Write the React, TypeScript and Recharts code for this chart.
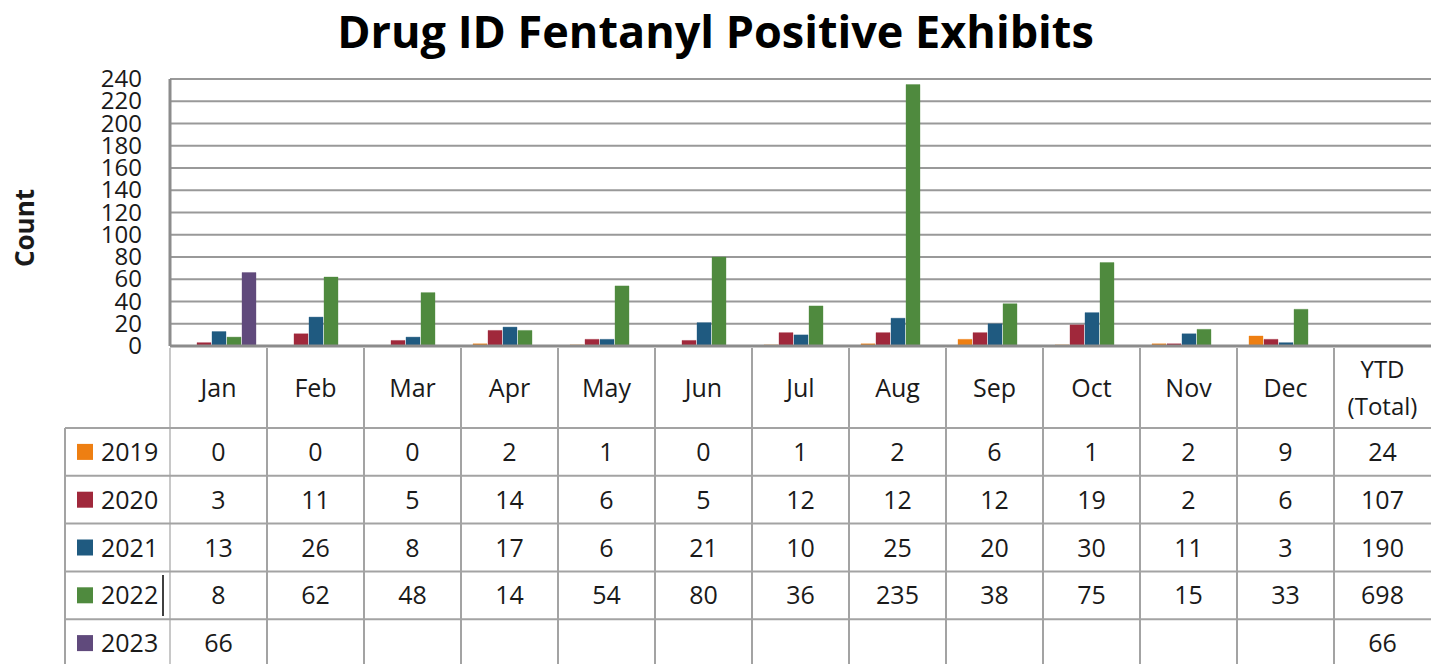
import { BarChart, Bar, XAxis, YAxis, CartesianGrid } from "recharts";

const months = ["Jan", "Feb", "Mar", "Apr", "May", "Jun", "Jul", "Aug", "Sep", "Oct", "Nov", "Dec"];
const ytdLabel = ["YTD", "(Total)"];
const years = ["2019", "2020", "2021", "2022", "2023"];
const colors = ["#EE7F12", "#A0283B", "#1F5A80", "#4F8A3E", "#604A7C"];

const y2019 = [0, 0, 0, 2, 1, 0, 1, 2, 6, 1, 2, 9];
const y2020 = [3, 11, 5, 14, 6, 5, 12, 12, 12, 19, 2, 6];
const y2021 = [13, 26, 8, 17, 6, 21, 10, 25, 20, 30, 11, 3];
const y2022 = [8, 62, 48, 14, 54, 80, 36, 235, 38, 75, 15, 33];
const y2023 = [66, null, null, null, null, null, null, null, null, null, null, null];
const ytdTotals = [24, 107, 190, 698, 66];

const yTicks = [0, 20, 40, 60, 80, 100, 120, 140, 160, 180, 200, 220, 240];

const series = [y2019, y2020, y2021, y2022, y2023];

const data: any[] = months.map((m, i) => {
  const row: any = { month: m, cells: series.map((s) => s[i]) };
  years.forEach((yr, k) => (row["y" + yr] = series[k][i]));
  return row;
});
data.push({ month: "YTD (Total)", cells: ytdTotals });

// layout
const W = 1431;
const H = 664;
const TOP = 79;
const AXIS_H = 318;
const PLOT_LEFT = 170;
const CELL = (W - PLOT_LEFT) / data.length;
const HEADER_BOTTOM = 428;
const ROW_H = 47.8;
const LEGEND_LEFT = 65;
const GRID = "#a3a3a3";
const FONT = "'Open Sans', sans-serif";

const TableColumn = (props: any) => {
  const { x, payload } = props;
  const i = payload.index;
  const row = data[i];
  const left = x - CELL / 2;
  const right = x + CELL / 2;
  const isYtd = i === data.length - 1;
  return (
    <g>
      <line x1={left} x2={left} y1={348} y2={H} stroke={i === 0 ? "#c8c8c8" : GRID} strokeWidth={2} />
      {isYtd ? (
        <text x={x} y={378} textAnchor="middle" fontFamily={FONT} fontSize={24} fill="#1a1a1a">
          <tspan x={x} dy={0}>{ytdLabel[0]}</tspan>
          <tspan x={x} dy={37}>{ytdLabel[1]}</tspan>
        </text>
      ) : (
        <text x={x} y={388} dy={9} textAnchor="middle" fontFamily={FONT} fontSize={25} fill="#1a1a1a">
          {row.month}
        </text>
      )}
      {years.map((yr, k) => {
        const top = HEADER_BOTTOM + k * ROW_H;
        const v = row.cells[k];
        return (
          <g key={yr}>
            <line x1={left} x2={right} y1={top} y2={top} stroke={GRID} strokeWidth={2} />
            {v !== null && v !== undefined && (
              <text x={x} y={top + ROW_H / 2} dy={9} textAnchor="middle" fontFamily={FONT} fontSize={25} fill="#1a1a1a">
                {v}
              </text>
            )}
          </g>
        );
      })}
      {i === 0 && (
        <g>
          <line x1={LEGEND_LEFT} x2={LEGEND_LEFT} y1={HEADER_BOTTOM} y2={H} stroke={GRID} strokeWidth={2} />
          {years.map((yr, k) => {
            const top = HEADER_BOTTOM + k * ROW_H;
            return (
              <g key={yr}>
                <line x1={LEGEND_LEFT} x2={left} y1={top} y2={top} stroke={GRID} strokeWidth={2} />
                <rect x={77} y={top + ROW_H / 2 - 8} width={16} height={16} fill={colors[k]} />
                <text x={101} y={top + ROW_H / 2} dy={9} fontFamily={FONT} fontSize={25} fill="#1a1a1a">
                  {yr}
                </text>
              </g>
            );
          })}
          <line x1={163} x2={163} y1={575} y2={616} stroke="#000" strokeWidth={1.5} />
        </g>
      )}
    </g>
  );
};

const YTick = (props: any) => {
  const { y, payload } = props;
  return (
    <text x={142} y={y} dy={8} textAnchor="end" fontFamily={FONT} fontSize={24} fill="#1a1a1a">
      {payload.value}
    </text>
  );
};

const CountLabel = () => (
  <text
    x={0}
    y={0}
    transform="translate(34,228) rotate(-90)"
    textAnchor="middle"
    fontFamily={FONT}
    fontWeight="bold"
    fontSize={26}
    fill="#1a1a1a"
  >
    Count
  </text>
);

export default function App() {
  return (
    <div style={{ position: "relative", width: W, height: H, background: "#fff", overflow: "hidden" }}>
      <style>{"body{margin:0}"}</style>
      <div
        style={{
          position: "absolute",
          top: 4,
          left: 9,
          width: W - 18,
          textAlign: "center",
          fontFamily: FONT,
          fontWeight: 700,
          fontSize: 45,
          lineHeight: 1.2,
          color: "#000",
        }}
      >
        Drug ID Fentanyl Positive Exhibits
      </div>
      <BarChart
        width={W}
        height={H}
        data={data}
        margin={{ top: TOP, right: 0, left: 0, bottom: 0 }}
        barCategoryGap={12}
        barGap={1}
      >
        <CartesianGrid vertical={false} stroke="#999" strokeWidth={2} />
        <XAxis
          dataKey="month"
          height={AXIS_H}
          interval={0}
          tickLine={false}
          axisLine={{ stroke: "#8c8c8c", strokeWidth: 3 }}
          tick={TableColumn}
        />
        <YAxis
          width={PLOT_LEFT}
          domain={[0, 240]}
          ticks={yTicks}
          interval={0}
          tickLine={false}
          axisLine={{ stroke: "#8c8c8c", strokeWidth: 3 }}
          tick={YTick}
          label={<CountLabel />}
        />
        {years.map((yr, k) => (
          <Bar
            key={yr}
            dataKey={"y" + yr}
            name={yr}
            fill={colors[k]}
            stroke={colors[k]}
            strokeOpacity={0.35}
            strokeWidth={1}
            isAnimationActive={false}
          />
        ))}
      </BarChart>
    </div>
  );
}
